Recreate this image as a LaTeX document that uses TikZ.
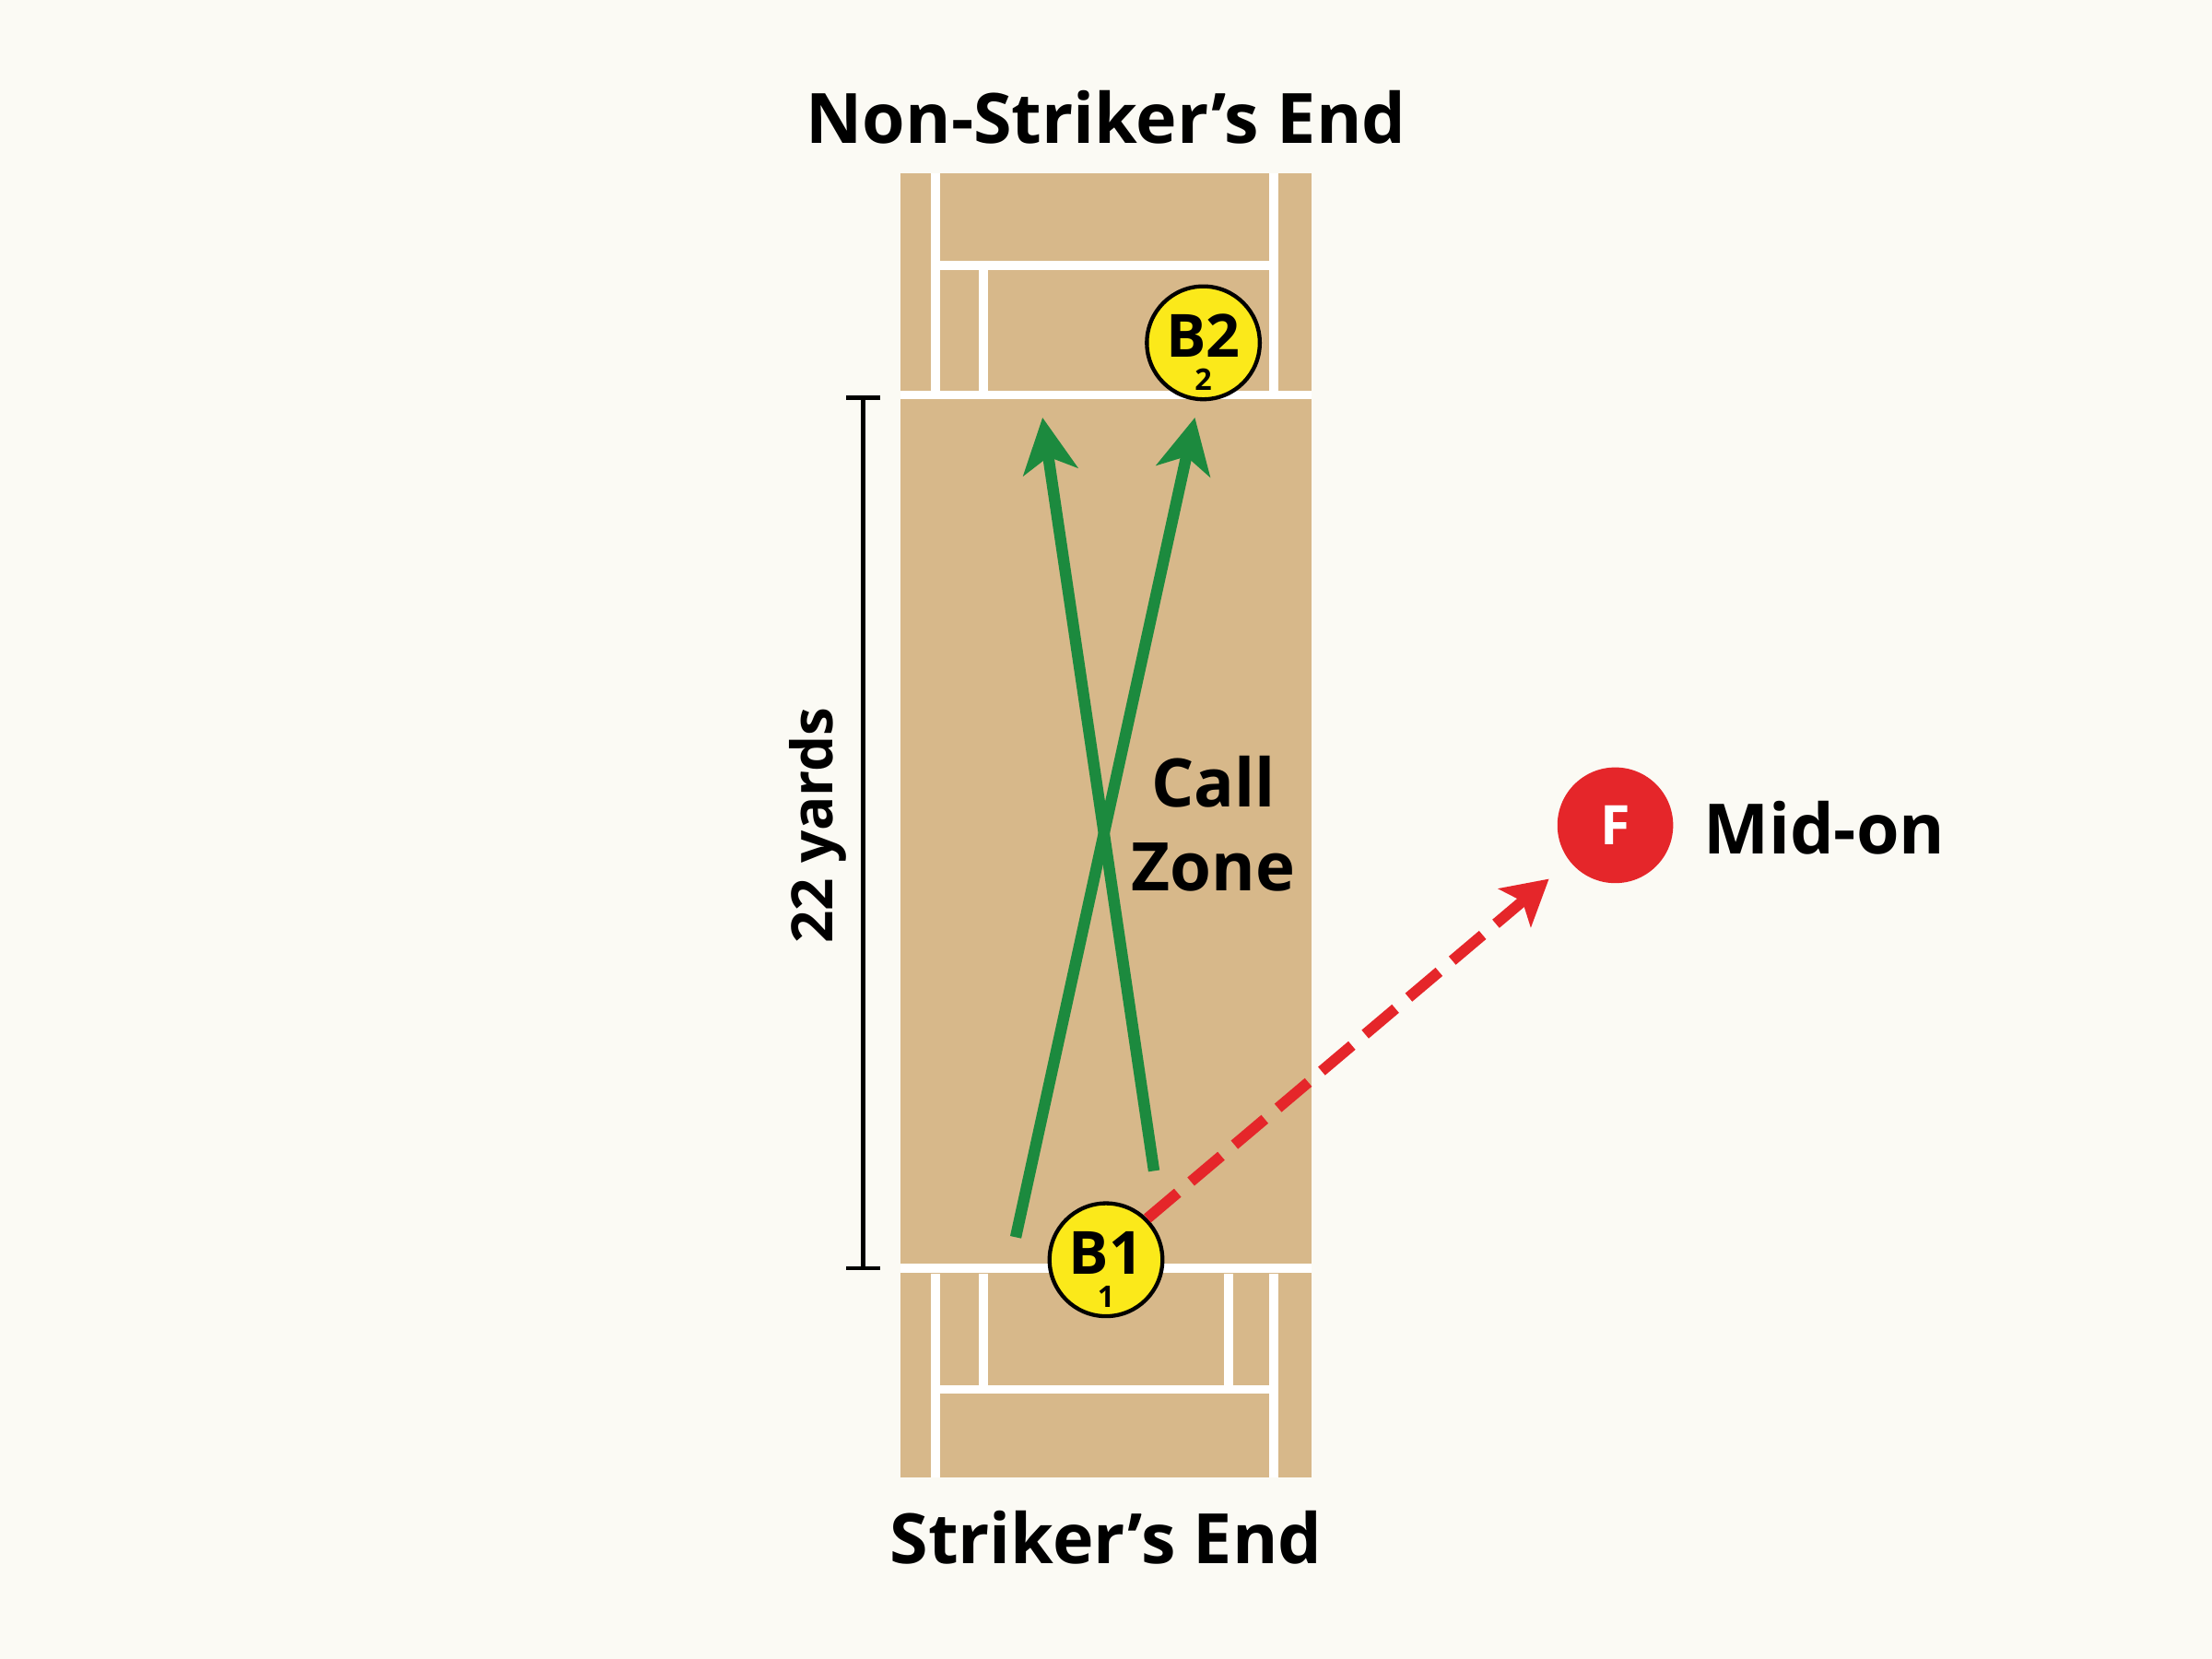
\documentclass[tikz,border=0pt]{standalone}
\usepackage{fontspec}
\setmainfont{Open Sans}
\usetikzlibrary{arrows.meta}
\definecolor{bg}{HTML}{FBFAF4}
\definecolor{tan}{HTML}{D7B88A}
\definecolor{grn}{HTML}{1C8A3E}
\definecolor{rd}{HTML}{E5262A}
\definecolor{yel}{HTML}{FBE91A}
\begin{document}
\begin{tikzpicture}[x=0.01cm,y=-0.01cm,
  wl/.style={white,line width=1.8pt},
  lbl/.style={font=\bfseries\fontsize{14}{16}\selectfont},
  bat/.style={circle,draw=black,line width=0.8pt,fill=yel,minimum size=0.8cm,inner sep=0pt},
  run/.style={grn,line width=2.3pt,-{Stealth[length=11pt,width=11pt,inset=3pt]}}]
\fill[bg] (0,0) rectangle (1568,1176);
\useasboundingbox (0,0) rectangle (1568,1176);
\fill[tan] (638,123) rectangle (930,1047);
\draw[wl] (663,123)--(663,277) (903,123)--(903,277) (663,188)--(903,188) (697,188)--(697,277);
\draw[wl] (663,903)--(663,1047) (903,903)--(903,1047) (663,985)--(903,985) (697,903)--(697,985) (871,903)--(871,985);
\draw[wl] (638,280)--(930,280) (638,899)--(930,899);
\node[lbl] (nse) at (784,83) {Non-Striker’s End};
\node[lbl] (se) at (784,1090) {Striker’s End};
\coordinate (dt) at (612,282); \coordinate (db) at (612,899);
\draw[black,line width=0.9pt] (dt)--(db) (600,282)--(624,282) (600,899)--(624,899);
\node[rotate=90,font=\bfseries\fontsize{11.5}{14}\selectfont] (yd) at (580,585) {22 yards};
\coordinate (a1s) at (720,877); \coordinate (a1e) at (847,296);
\coordinate (a2s) at (818,830); \coordinate (a2e) at (739,296);
\draw[run] (a1s)--(a1e);
\draw[run] (a2s)--(a2e);
\node[align=center,font=\bfseries\fontsize{13.5}{17}\selectfont] (cz) at (860,584) {Call\\Zone};
\node[bat] (b2) at (853,243) {};
\node[font=\bfseries\fontsize{12}{12}\selectfont] at (853,238) {B2};
\node[font=\bfseries\fontsize{6}{6}\selectfont] at (853,269) {2};
\node[circle,fill=rd,minimum size=0.82cm,inner sep=0pt,text=white,font=\bfseries\fontsize{11}{11}\selectfont] (f) at (1145,585) {F};
\node[lbl,anchor=west] (mo) at (1195,587) {Mid-on};
\node[bat] (b1) at (784,893) {};
\draw[rd,line width=2.2pt,dash pattern=on 8pt off 3.5pt,-{Stealth[length=9pt,width=10pt,inset=2pt]}] (b1.45)--(1098,623);
\node[font=\bfseries\fontsize{12}{12}\selectfont] at (784,888) {B1};
\node[font=\bfseries\fontsize{6}{6}\selectfont] at (784,919) {1};
\end{tikzpicture}
\end{document}
